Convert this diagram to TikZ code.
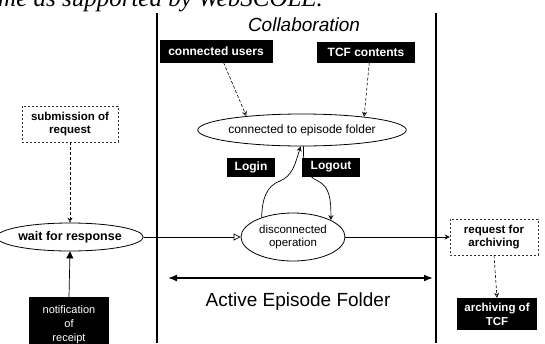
\documentclass[tikz,border=0pt]{standalone}
\usepackage{fontspec}
\setmainfont{Liberation Sans}
\newfontfamily\capfont{Liberation Serif}
\usetikzlibrary{arrows.meta,shapes.geometric}

\begin{document}
\begin{tikzpicture}[x=1pt,y=-1pt,
  lane/.style={line width=1.8pt},
  blackbox/.style={fill=black,text=white,inner sep=0pt,align=center,
    font=\fontsize{12}{13}\selectfont\bfseries},
  dashbox/.style={draw=black!80,line width=0.5pt,dash pattern=on 2pt off 2pt,inner sep=0pt,
    align=center,font=\fontsize{11.5}{13}\selectfont\bfseries},
  state/.style={ellipse,draw,line width=0.8pt,inner sep=0pt,align=center},
  flow/.style={line width=0.7pt},
  dflow/.style={line width=0.6pt,dash pattern=on 3pt off 2pt},
  smallhead/.style={-{Stealth[open,length=5pt,width=5pt]}},
]
\useasboundingbox (0,0) rectangle (545,343);

% fragment of the caption line above the figure
\node[anchor=base west,inner sep=0pt,font=\capfont\itshape\fontsize{25}{25}\selectfont]
  (cap) at (-2,6) {me as supported by WebSCOLE.};

% swim-lane borders
\coordinate (lt) at (157,13);  \coordinate (lb) at (157,343);
\coordinate (rt) at (436,13);  \coordinate (rb) at (436,343);
\draw[lane] (lt) -- (lb);
\draw[lane] (rt) -- (rb);

\node[font=\itshape\fontsize{19}{20}\selectfont] (collab) at (304,25) {Collaboration};

% upper part of the lane
\node[blackbox,minimum width=113pt,minimum height=23pt] (cu) at (216,51) {connected users};
\node[blackbox,minimum width=98pt,minimum height=21pt] (tcf) at (366,52) {TCF contents};
\node[state,minimum width=170pt,minimum height=32pt,font=\fontsize{12}{12}\selectfont]
  (conn) at (302,130) {connected to episode folder};
\node[blackbox,minimum width=48pt,minimum height=19pt] (login) at (251,167) {Login};
\node[blackbox,minimum width=58pt,minimum height=19pt] (logout) at (331,167) {Logout};
\node[state,minimum width=104pt,minimum height=48pt,font=\fontsize{11.5}{13}\selectfont]
  (disc) at (293,237) {disconnected\\operation};

% left side
\node[dashbox,minimum width=96pt,minimum height=36pt] (sub) at (70,124) {submission of\\request};
\node[state,minimum width=122pt,minimum height=28pt,font=\fontsize{12.5}{13}\selectfont\bfseries]
  (wait) at (70,237) {wait for response};
\node[blackbox,minimum width=80pt,minimum height=56pt,font=\fontsize{11}{14}\selectfont]
  (notif) at (69,325) {notification\\of\\receipt};

% right side
\node[dashbox,minimum width=88pt,minimum height=36pt] (req) at (494,237) {request for\\archiving};
\node[blackbox,minimum width=80pt,minimum height=32pt,font=\fontsize{11.5}{14}\selectfont\bfseries]
  (arch) at (497,314) {archiving of\\TCF};

% extent of the active episode folder
\coordinate (aefL) at (168,278);
\coordinate (aefR) at (433,278);
\draw[line width=1.6pt,{Latex[length=9pt,width=7pt]}-{Latex[length=9pt,width=7pt]}] (aefL) -- (aefR);
\node[font=\fontsize{19}{20}\selectfont] (aef) at (298,302) {Active Episode Folder};

% connectors
\draw[dflow,smallhead] (cu.-57) -- (conn.166);
\draw[dflow,smallhead] (tcf.-73) -- (conn.12);
\draw[flow,smallhead] (disc.148) .. controls (262,200) and (266,186) .. (280,181)
  .. controls (292,176) and (295,165) .. (conn.-95);
\draw[flow,smallhead] (conn.-85) .. controls (303,165) and (306,176) .. (318,181)
  .. controls (330,187) and (331,200) .. (disc.24);
\draw[dflow,smallhead] (sub.south) -- (wait.north);
\draw[flow,-{Triangle[length=7pt,width=7pt]}] (notif.north) -- (wait.south);
\draw[flow,-{Triangle[open,length=7pt,width=7pt]}] (wait.east) -- (disc.west);
\draw[flow,smallhead] (disc.east) -- (req.west);
\draw[dflow,smallhead] (req.south) -- (arch.north);
\end{tikzpicture}
\end{document}
